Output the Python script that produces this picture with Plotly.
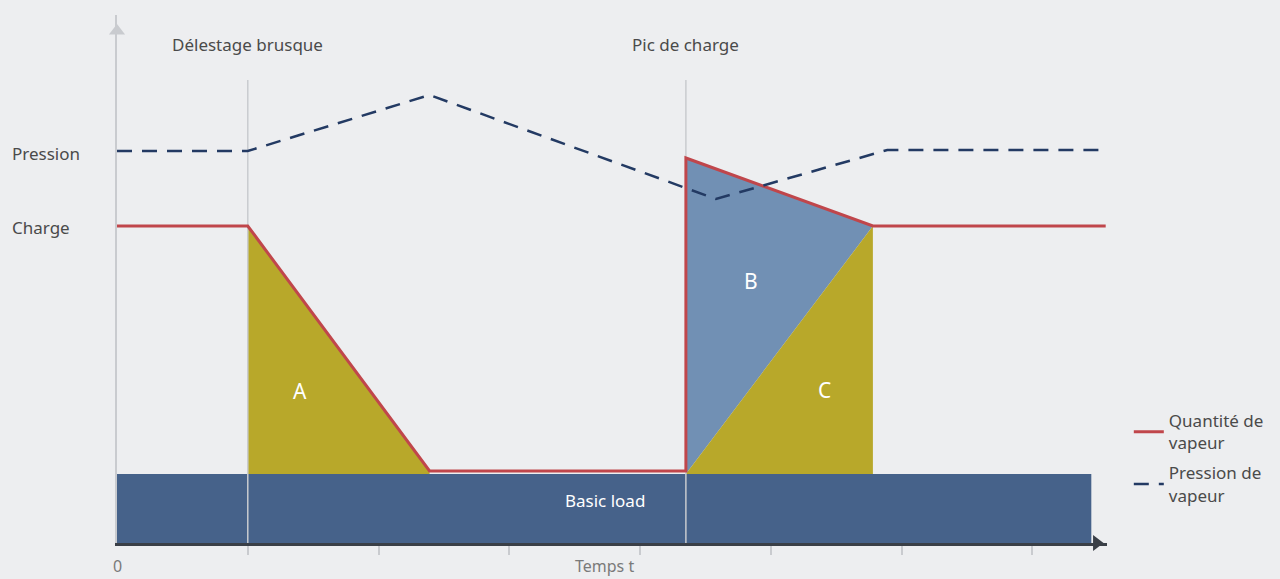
import plotly.graph_objects as go

# ---- data (time units, arbitrary level units) ----
basic_x = [0, 7.45, 7.45, 0]
basic_y = [0, 0, 6.9, 6.9]

area_a_x = [1.0, 2.39, 2.39, 1.0]
area_a_y = [31.7, 7.2, 6.9, 6.9]

area_b_x = [4.35, 5.78, 4.35]
area_b_y = [38.5, 31.7, 6.9]

area_c_x = [4.35, 5.78, 5.78]
area_c_y = [6.9, 31.7, 6.9]

steam_x = [0, 1.0, 2.39, 4.35, 4.35, 5.78, 7.56]
steam_y = [31.7, 31.7, 7.2, 7.2, 38.5, 31.7, 31.7]

press_x = [0, 1.0, 2.39, 4.58, 5.89, 7.56]
press_y = [39.2, 39.2, 44.8, 34.4, 39.3, 39.3]

event_x = [1.0, 4.35]
event_labels = ["Délestage brusque", "Pic de charge"]
event_top = 46.3

area_labels = ["A", "B", "C"]
area_label_x = [1.4, 4.85, 5.41]
area_label_y = [15.2, 26.2, 15.3]

level_labels = ["Pression", "Charge"]
level_y = [39.0, 31.6]

tick_vals = [1, 2, 3, 4, 5, 6, 7]

BG = "#edeef0"
GOLD = "#b8a82a"
BLUE_B = "#7190b4"
BASIC = "#46628a"
RED = "#c0464b"
NAVY = "#233a63"
TXT = "#4a4a4a"
FONT = "Noto Sans"

fig = go.Figure()

fig.add_trace(go.Scatter(x=basic_x, y=basic_y, fill="toself", fillcolor=BASIC,
                         mode="none", showlegend=False, hoverinfo="skip"))
fig.add_trace(go.Scatter(x=area_a_x, y=area_a_y, fill="toself", fillcolor=GOLD,
                         mode="none", showlegend=False, hoverinfo="skip"))
fig.add_trace(go.Scatter(x=area_b_x, y=area_b_y, fill="toself", fillcolor=BLUE_B,
                         mode="none", showlegend=False, hoverinfo="skip"))
fig.add_trace(go.Scatter(x=area_c_x, y=area_c_y, fill="toself", fillcolor=GOLD,
                         mode="none", showlegend=False, hoverinfo="skip"))

# event vertical lines
for ex in event_x:
    fig.add_trace(go.Scatter(x=[ex, ex], y=[0, event_top], mode="lines",
                             line=dict(color="#c9cbcf", width=1.5),
                             showlegend=False, hoverinfo="skip"))

fig.add_trace(go.Scatter(x=steam_x, y=steam_y, mode="lines",
                         line=dict(color=RED, width=3), legendgroup="a",
                         name="Quantité de<br>vapeur"))
fig.add_trace(go.Scatter(x=press_x, y=press_y, mode="lines", legendgroup="b",
                         line=dict(color=NAVY, width=2.5, dash="15px,10px"),
                         name="Pression de<br>vapeur"))

# axis arrowheads
fig.add_trace(go.Scatter(x=[0], y=[51.2], mode="markers",
                         marker=dict(symbol="triangle-up", size=14, color="#c9cbcf"),
                         showlegend=False, hoverinfo="skip", cliponaxis=False))
fig.add_trace(go.Scatter(x=[7.49], y=[0], mode="markers",
                         marker=dict(symbol="triangle-right", size=14, color="#3a3f47"),
                         showlegend=False, hoverinfo="skip", cliponaxis=False))

ann = []
for ex, lab in zip(event_x, event_labels):
    ann.append(dict(x=ex, y=49.9, text=lab, showarrow=False,
                    font=dict(size=17, color=TXT, family=FONT)))
for lx, ly, lab in zip(area_label_x, area_label_y, area_labels):
    ann.append(dict(x=lx, y=ly, text=lab, showarrow=False,
                    font=dict(size=21, color="white", family=FONT)))
for ly, lab in zip(level_y, level_labels):
    ann.append(dict(x=-0.108, xref="paper", xanchor="left", y=ly, text=lab,
                    showarrow=False, font=dict(size=17, color=TXT, family=FONT)))
ann.append(dict(x=3.73, y=4.3, text="Basic load", showarrow=False,
                font=dict(size=17, color="white", family=FONT)))
ann.append(dict(x=0, y=-0.044, yref="paper", yanchor="middle", text="0",
                showarrow=False, font=dict(size=16, color="#7a7a7a", family=FONT)))
ann.append(dict(x=3.73, y=-0.044, yref="paper", yanchor="middle", text="Temps t",
                showarrow=False, font=dict(size=16, color="#7a7a7a", family=FONT)))

fig.update_layout(
    width=1280, height=579,
    margin=dict(l=117, r=172, t=15, b=36),
    paper_bgcolor=BG, plot_bgcolor=BG,
    annotations=ann,
    showlegend=True,
    legend=dict(x=1.021, xanchor="left", y=0.265, yanchor="top",
                bgcolor="rgba(0,0,0,0)",
                font=dict(size=17, color=TXT, family=FONT),
                tracegroupgap=5),
    xaxis=dict(range=[0, 7.57], showgrid=False, zeroline=False,
               showline=True, linecolor="#3a3f47", linewidth=2.5,
               tickvals=tick_vals, ticktext=[""] * len(tick_vals),
               ticks="outside", ticklen=9, tickcolor="#c9cbcf", tickwidth=1.5,
               fixedrange=True),
    yaxis=dict(range=[0, 52.8], showgrid=False, zeroline=False,
               showline=True, linecolor="#c9cbcf", linewidth=2,
               showticklabels=False, ticks="", fixedrange=True),
    font=dict(family=FONT),
)

fig.write_html("out.html",
               config={"displayModeBar": False},
               post_script="document.body.style.margin='0';"
                           "document.body.style.background='#edeef0';"
                           "document.body.style.overflow='hidden';")
